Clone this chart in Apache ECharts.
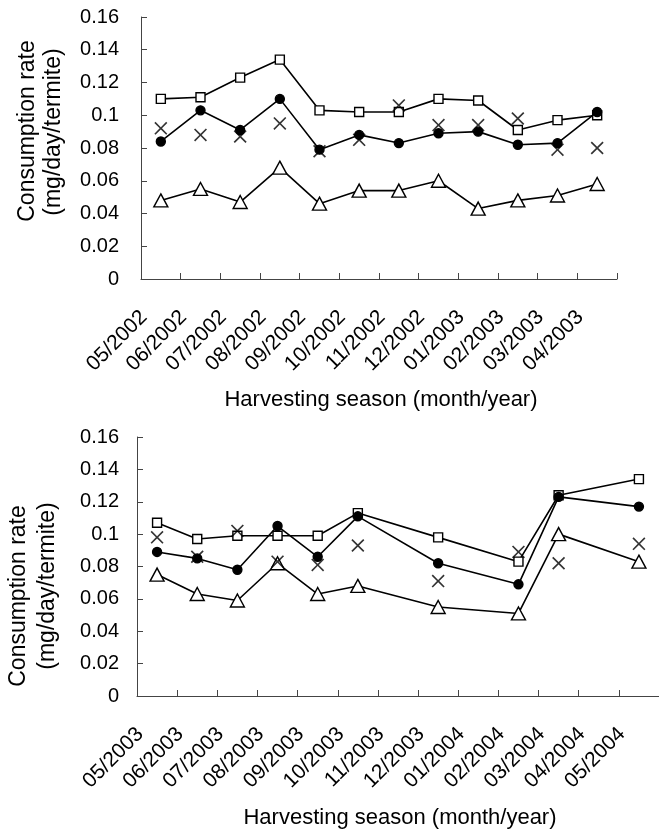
<!DOCTYPE html>
<html>
<head>
<meta charset="utf-8">
<script src="https://cdn.jsdelivr.net/npm/echarts@6/dist/echarts.min.js"></script>
<style>
html,body{margin:0;padding:0;background:#fff;}
#chart{width:659px;height:829px;}
</style>
</head>
<body>
<div id="chart"></div>
<script>
// ---- Data: panel 1 (05/2002 - 04/2003) ----
const categories1 = ['05/2002','06/2002','07/2002','08/2002','09/2002','10/2002','11/2002','12/2002','01/2003','02/2003','03/2003','04/2003'];
const squares1   = [0.110, 0.111, 0.123, 0.134, 0.103, 0.102, 0.102, 0.110, 0.109, 0.091, 0.097, 0.100];
const circles1   = [0.084, 0.103, 0.091, 0.110, 0.079, 0.088, 0.083, 0.089, 0.090, 0.082, 0.083, 0.102];
const crosses1   = [0.092, 0.088, 0.087, 0.095, 0.078, 0.085, 0.106, 0.094, 0.094, 0.098, 0.079, 0.080];
const triangles1 = [0.048, 0.055, 0.047, 0.068, 0.046, 0.054, 0.054, 0.060, 0.043, 0.048, 0.051, 0.058];

// ---- Data: panel 2 (05/2003 - 05/2004) ----
const categories2 = ['05/2003','06/2003','07/2003','08/2003','09/2003','10/2003','11/2003','12/2003','01/2004','02/2004','03/2004','04/2004','05/2004'];
const squares2   = [0.107, 0.097, 0.099, 0.099, 0.099, 0.113, null, 0.098, null, 0.083, 0.124, null, 0.134];
const circles2   = [0.089, 0.085, 0.078, 0.105, 0.086, 0.111, null, 0.082, null, 0.069, 0.123, null, 0.117];
const crosses2   = [0.098, 0.086, 0.102, 0.083, 0.081, 0.093, null, 0.071, null, 0.089, 0.082, null, 0.094];
const triangles2 = [0.075, 0.063, 0.059, 0.082, 0.063, 0.068, null, 0.055, null, 0.051, 0.100, null, 0.083];

// ---- Axis ----
const yMin = 0, yMax = 0.16, yStep = 0.02;
const yAxisTitle = ['Consumption rate', '(mg/day/termite)'];
const xAxisTitle = 'Harvesting season (month/year)';

const FONT = "'Liberation Sans', Arial, sans-serif";
const crossPath = 'path://M0,9L9,0L50,41L91,0L100,9L59,50L100,91L91,100L50,59L9,100L0,91L41,50Z';

function xAxisCfg(gi, cats) {
  return {
    type: 'category', gridIndex: gi, data: cats, boundaryGap: true,
    axisLine: {show: true, lineStyle: {color: '#444', width: 1}},
    axisTick: {show: true, inside: true, length: 6, lineStyle: {color: '#444'}},
    axisLabel: {
      interval: 0, rotate: 45, fontSize: 21, color: '#000', fontFamily: FONT,
      margin: 18, padding: [0, 24, 0, 0]
    },
    splitLine: {show: false}
  };
}
function yAxisCfg(gi, margin) {
  return {
    type: 'value', gridIndex: gi, min: yMin, max: yMax, interval: yStep,
    axisLine: {show: true, lineStyle: {color: '#444', width: 1}},
    axisTick: {show: true, inside: true, length: 6, lineStyle: {color: '#444'}},
    axisLabel: {fontSize: 20, color: '#000', fontFamily: FONT, margin: margin,
      formatter: v => String(+v.toFixed(2))},
    splitLine: {show: false}
  };
}
function lineSeries(idx, data, symbol, size, fill, z) {
  return {
    type: 'line', xAxisIndex: idx, yAxisIndex: idx, data: data,
    connectNulls: true, symbol: symbol, symbolSize: size, showAllSymbol: true,
    lineStyle: {color: '#000', width: 1.6},
    itemStyle: {color: fill, borderColor: '#000', borderWidth: 1.4},
    z: z, silent: true
  };
}
function crossSeries(idx, data) {
  return {
    type: 'scatter', xAxisIndex: idx, yAxisIndex: idx, data: data,
    symbol: crossPath, symbolSize: 13,
    itemStyle: {color: '#000', borderWidth: 0}, z: 5, silent: true
  };
}

const chart = echarts.init(document.getElementById('chart'), null, {renderer: 'canvas'});
chart.setOption({
  animation: false,
  backgroundColor: '#fff',
  grid: [
    {left: 141, top: 17, width: 476, height: 262},
    {left: 137, top: 437, width: 523, height: 259}
  ],
  xAxis: [xAxisCfg(0, categories1), xAxisCfg(1, categories2)],
  yAxis: [yAxisCfg(0, 22), yAxisCfg(1, 18)],
  series: [
    lineSeries(0, triangles1, 'triangle', [14, 13], '#fff', 2),
    lineSeries(0, squares1, 'rect', 9, '#fff', 3),
    lineSeries(0, circles1, 'circle', 9, '#000', 4),
    crossSeries(0, crosses1),
    lineSeries(1, triangles2, 'triangle', [14, 13], '#fff', 2),
    lineSeries(1, squares2, 'rect', 9, '#fff', 3),
    lineSeries(1, circles2, 'circle', 9, '#000', 4),
    crossSeries(1, crosses2)
  ],
  graphic: [
    {type: 'text', x: 28, y: 131, rotation: Math.PI / 2,
      style: {text: yAxisTitle[0], font: '23px ' + FONT, fill: '#000', align: 'center', verticalAlign: 'middle'}},
    {type: 'text', x: 54, y: 132, rotation: Math.PI / 2,
      style: {text: yAxisTitle[1], font: '23px ' + FONT, fill: '#000', align: 'center', verticalAlign: 'middle'}},
    {type: 'text', x: 19, y: 596, rotation: Math.PI / 2,
      style: {text: yAxisTitle[0], font: '23px ' + FONT, fill: '#000', align: 'center', verticalAlign: 'middle'}},
    {type: 'text', x: 48, y: 586, rotation: Math.PI / 2,
      style: {text: yAxisTitle[1], font: '23px ' + FONT, fill: '#000', align: 'center', verticalAlign: 'middle'}},
    {type: 'text', x: 381, y: 400,
      style: {text: xAxisTitle, font: '22px ' + FONT, fill: '#000', align: 'center', verticalAlign: 'middle'}},
    {type: 'text', x: 400, y: 818,
      style: {text: xAxisTitle, font: '22px ' + FONT, fill: '#000', align: 'center', verticalAlign: 'middle'}}
  ]
});
</script>
</body>
</html>
